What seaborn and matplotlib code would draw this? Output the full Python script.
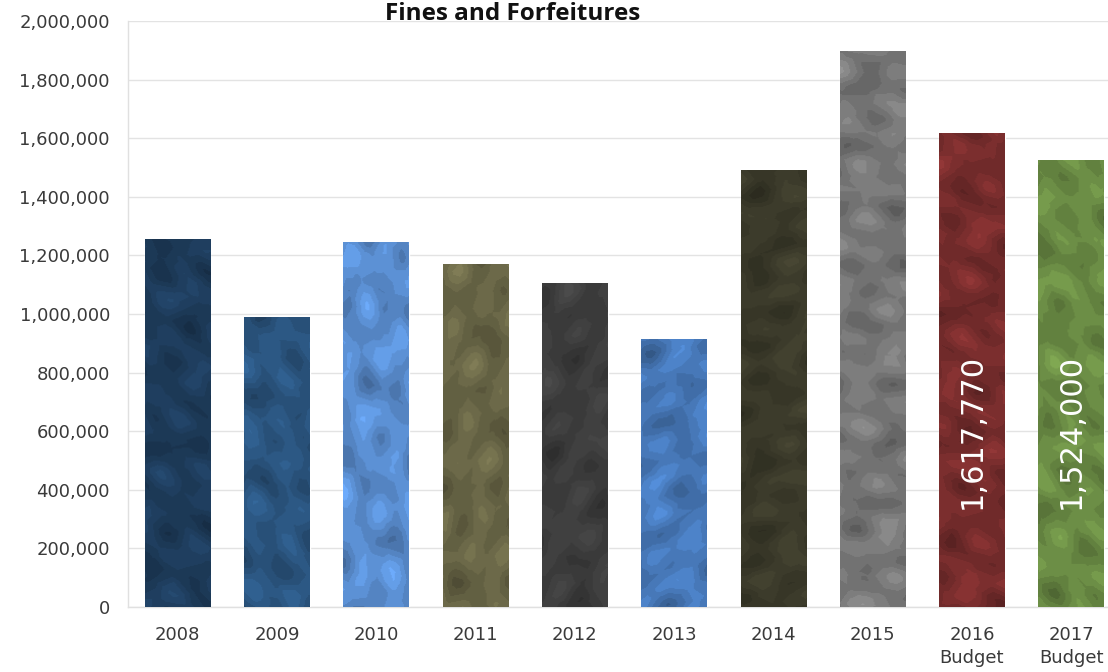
import numpy as np
import pandas as pd
import matplotlib
matplotlib.use("Agg")
import matplotlib.pyplot as plt
import seaborn as sns
from matplotlib.colors import to_rgb
from matplotlib.ticker import FuncFormatter

# Fines and forfeitures by fiscal year
years = ["2008", "2009", "2010", "2011", "2012", "2013", "2014", "2015",
         "2016\nBudget", "2017\nBudget"]
amounts = [1257000, 990000, 1246000, 1172000, 1107000, 915000,
           1492000, 1898000, 1617770, 1524000]
labelled = {"2016\nBudget": "1,617,770", "2017\nBudget": "1,524,000"}
bar_colors = ["#1f3e5e", "#2c5782", "#5b8fd2", "#6b6848", "#3f3f3f",
              "#4677b6", "#3c3b2b", "#7c7c7c", "#7a2e2e", "#6b8c45"]

df = pd.DataFrame({"year": years, "amount": amounts})

sns.set_theme(style="white")
plt.rcParams["font.family"] = ["DejaVu Sans"]

fig = plt.figure(figsize=(11.08, 6.72), dpi=100)
ax = fig.add_axes([0.1155, 0.0967, 0.8845, 0.872])

sns.barplot(data=df, x="year", y="amount", hue="year", palette=bar_colors,
            legend=False, width=0.66, saturation=1, ax=ax, zorder=3)


def crumple(h, w, shift):
    """Angular, paper-like shading built from crossing triangle ridges."""
    yy, xx = np.mgrid[0:h, 0:w].astype(float)
    field = np.zeros((h, w))
    waves = [(0.35, 0.021, 0.0), (1.9, 0.017, 0.3), (2.7, 0.028, 0.6),
             (0.95, 0.013, 0.15), (2.2, 0.034, 0.8), (1.4, 0.024, 0.45)]
    for ang, freq, ph in waves:
        a = ang + shift * 0.37
        proj = (xx * np.cos(a) + yy * np.sin(a)) * freq + ph + shift * 0.27
        field += 2 * np.abs(proj - np.floor(proj) - 0.5)
    field = (field - field.min()) / (field.max() - field.min())
    return np.round(field * 5) / 5  # posterized facets


for i, patch in enumerate(ax.patches):
    x0, y0 = patch.get_x(), patch.get_y()
    w, h = patch.get_width(), patch.get_height()
    base = np.array(to_rgb(bar_colors[i]))
    px_h = max(int(h / 2000000 * 586), 4)
    tex = crumple(px_h, 65, i)
    shade = 0.74 + 0.46 * tex
    img = np.clip(base[None, None, :] * shade[:, :, None], 0, 1)
    im = ax.imshow(img, extent=(x0, x0 + w, y0, y0 + h), aspect="auto",
                   interpolation="bilinear", zorder=4)
    im.set_clip_path(patch)

for i, yr in enumerate(years):
    txt = labelled.get(yr)
    if txt:
        ax.text(i, 600000, txt, rotation=90, ha="center", va="center",
                color="white", fontsize=22, zorder=6)

ax.set_xlim(-0.5, 9.37)
ax.set_ylim(0, 2000000)
ax.set_yticks(np.arange(0, 2000001, 200000))
ax.yaxis.set_major_formatter(FuncFormatter(lambda v, p: f"{int(v):,}"))
ax.set_xlabel("")
ax.set_ylabel("")
ax.grid(axis="y", color="#e3e3e3", linewidth=1, zorder=0)
for side in ["top", "right"]:
    ax.spines[side].set_visible(False)
for side in ["left", "bottom"]:
    ax.spines[side].set_color("#e0e0e0")
    ax.spines[side].set_linewidth(1)
ax.tick_params(axis="both", length=0, labelsize=13, labelcolor="#3a3a3a")
ax.tick_params(axis="y", pad=13)
ax.tick_params(axis="x", pad=14)
for lab in ax.get_xticklabels():
    lab.set_linespacing(1.3)

fig.text(0.463, 1 - 19.5 / 672, "Fines and Forfeitures", ha="center",
         va="baseline", fontsize=17.5, fontweight="bold", color="#111111",
         family="Open Sans")

fig.savefig("out.png", dpi=100)
